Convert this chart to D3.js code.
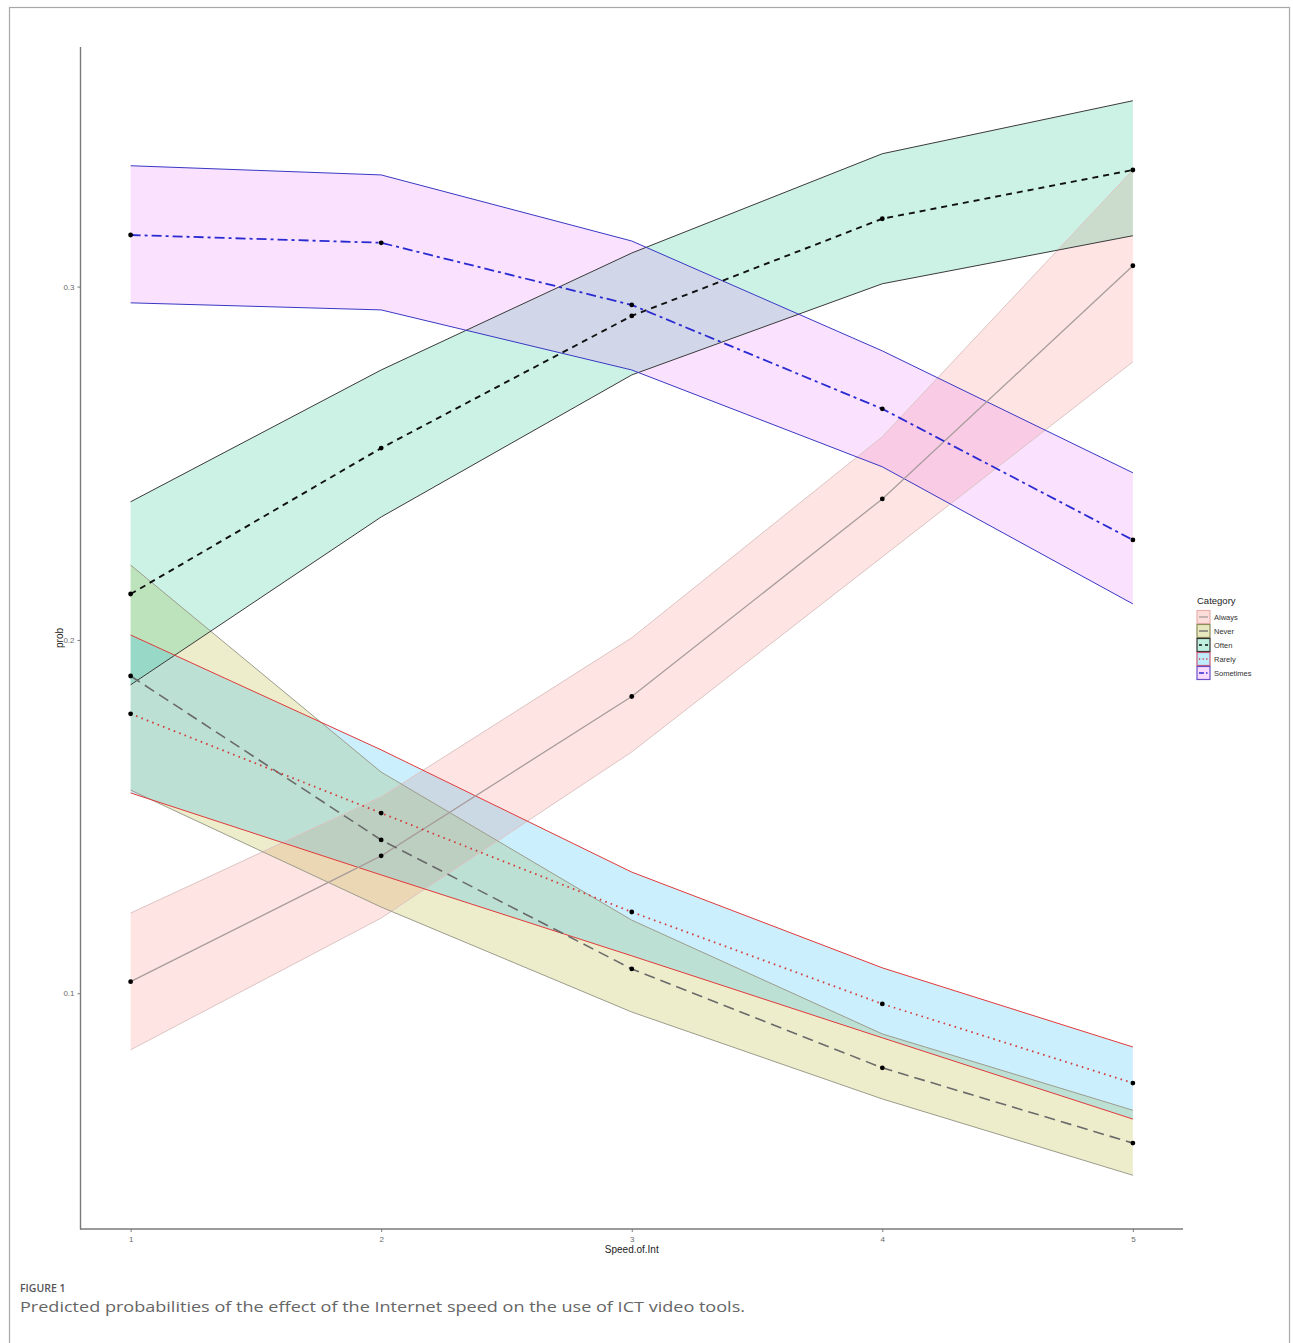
<!DOCTYPE html>
<html>
<head>
<meta charset="utf-8">
<script src="https://cdn.jsdelivr.net/npm/d3@7"></script>
<style>
  body { margin: 0; background: #fff; }
  svg { display: block; }
</style>
</head>
<body>
<svg id="chart" width="1293" height="1343"></svg>
<script>
// Predicted probabilities (with confidence bands) by internet speed level
const speeds = [1, 2, 3, 4, 5];
const categories = ["Always", "Never", "Often", "Rarely", "Sometimes"];

const alwaysProb = [0.1033, 0.1389, 0.1840, 0.2399, 0.3059];
const alwaysLow  = [0.0840, 0.1213, 0.1683, 0.2235, 0.2787];
const alwaysHigh = [0.1227, 0.1556, 0.2006, 0.2575, 0.3330];

const neverProb = [0.1898, 0.1434, 0.1069, 0.0789, 0.0576];
const neverLow  = [0.1575, 0.1244, 0.0947, 0.0701, 0.0485];
const neverHigh = [0.2212, 0.1626, 0.1207, 0.0885, 0.0669];

const oftenProb = [0.2130, 0.2543, 0.2917, 0.3192, 0.3330];
const oftenLow  = [0.1873, 0.2348, 0.2750, 0.3008, 0.3144];
const oftenHigh = [0.2391, 0.2764, 0.3095, 0.3376, 0.3526];

const rarelyProb = [0.1791, 0.1510, 0.1230, 0.0970, 0.0746];
const rarelyLow  = [0.1567, 0.1335, 0.1106, 0.0874, 0.0644];
const rarelyHigh = [0.2014, 0.1689, 0.1343, 0.1072, 0.0848];

const sometimesProb = [0.3146, 0.3124, 0.2948, 0.2654, 0.2283];
const sometimesLow  = [0.2954, 0.2934, 0.2764, 0.2490, 0.2102];
const sometimesHigh = [0.3342, 0.3316, 0.3129, 0.2818, 0.2473];

const yTicks = [0.1, 0.2, 0.3];
const xTicks = [1, 2, 3, 4, 5];

const seriesValues = {
  Always:    [alwaysProb, alwaysLow, alwaysHigh],
  Never:     [neverProb, neverLow, neverHigh],
  Often:     [oftenProb, oftenLow, oftenHigh],
  Rarely:    [rarelyProb, rarelyLow, rarelyHigh],
  Sometimes: [sometimesProb, sometimesLow, sometimesHigh]
};

// Visual encoding per category
const fillColor = d3.scaleOrdinal().domain(categories)
  .range(["#F8766D", "#A3A500", "#00BF7D", "#00B0F6", "#E76BF3"]);
const bandStroke = d3.scaleOrdinal().domain(categories)
  .range(["#dcc4c4", "#9c9c8c", "#3a3a3a", "#e03a3a", "#3838c4"]);
const lineStroke = d3.scaleOrdinal().domain(categories)
  .range(["#a89c9c", "#6a6a6a", "#111111", "#d23c3c", "#2a2ad2"]);
const lineDash = d3.scaleOrdinal().domain(categories)
  .range(["none", "11,6", "6,5", "1.6,4.2", "10,4,3,4"]);
const lineWidth = d3.scaleOrdinal().domain(categories)
  .range([1.3, 1.6, 1.9, 1.8, 1.8]);
const keyBorder = d3.scaleOrdinal().domain(categories)
  .range(["#eab0b0", "#8c8c5a", "#333333", "#c85a78", "#6a50c8"]);

const rows = categories.map(cat => ({
  cat,
  pts: speeds.map((s, i) => ({
    x: s,
    p: seriesValues[cat][0][i],
    lo: seriesValues[cat][1][i],
    hi: seriesValues[cat][2][i]
  }))
}));

const svg = d3.select("#chart");

// Figure frame
svg.append("rect")
  .attr("x", 9.5).attr("y", 7.5)
  .attr("width", 1280).attr("height", 1400)
  .attr("fill", "none").attr("stroke", "#a8a8a8").attr("stroke-width", 1.2);

const plot = { left: 80.5, right: 1183, top: 47, bottom: 1229 };

// Scales with ggplot-style 5% expansion
const xExt = d3.extent(speeds);
const xPad = (xExt[1] - xExt[0]) * 0.05;
const x = d3.scaleLinear().domain([xExt[0] - xPad, xExt[1] + xPad])
  .range([plot.left, plot.right]);

const allVals = categories.flatMap(c => seriesValues[c][1].concat(seriesValues[c][2]));
const yExt = d3.extent(allVals);
const yPad = (yExt[1] - yExt[0]) * 0.05;
const y = d3.scaleLinear().domain([yExt[0] - yPad, yExt[1] + yPad])
  .range([plot.bottom, plot.top]);

// Ribbons
const area = d3.area().x(d => x(d.x)).y0(d => y(d.lo)).y1(d => y(d.hi));
const lineLo = d3.line().x(d => x(d.x)).y(d => y(d.lo));
const lineHi = d3.line().x(d => x(d.x)).y(d => y(d.hi));
const lineP = d3.line().x(d => x(d.x)).y(d => y(d.p));

const bands = svg.append("g");
rows.forEach(r => {
  bands.append("path").datum(r.pts)
    .attr("d", area)
    .attr("fill", fillColor(r.cat)).attr("fill-opacity", 0.2)
    .attr("stroke", "none");
});
rows.forEach(r => {
  [lineLo, lineHi].forEach(gen => {
    bands.append("path").datum(r.pts)
      .attr("d", gen)
      .attr("fill", "none")
      .attr("stroke", bandStroke(r.cat))
      .attr("stroke-width", 1);
  });
});

// Mean lines
const lines = svg.append("g");
rows.forEach(r => {
  lines.append("path").datum(r.pts)
    .attr("d", lineP)
    .attr("fill", "none")
    .attr("stroke", lineStroke(r.cat))
    .attr("stroke-width", lineWidth(r.cat))
    .attr("stroke-dasharray", lineDash(r.cat));
});

// Points
const pts = svg.append("g");
rows.forEach(r => {
  pts.selectAll(null).data(r.pts).enter().append("circle")
    .attr("cx", d => x(d.x)).attr("cy", d => y(d.p))
    .attr("r", 2.4).attr("fill", "#000");
});

// Axes
const axisColor = "#7a7a7a";
const yAxis = svg.append("g")
  .attr("transform", `translate(${plot.left},0)`)
  .call(d3.axisLeft(y).tickValues(yTicks).tickSize(3).tickPadding(3).tickFormat(d3.format(".1f")));
const xAxis = svg.append("g")
  .attr("transform", `translate(0,${plot.bottom})`)
  .call(d3.axisBottom(x).tickValues(xTicks).tickSize(3).tickPadding(4).tickFormat(d3.format("d")));

[yAxis, xAxis].forEach(g => {
  g.select(".domain").remove();
  g.selectAll(".tick line").attr("stroke", axisColor).attr("stroke-width", 1);
  g.selectAll(".tick text")
    .attr("fill", "#6a6a6a")
    .attr("font-family", "Liberation Sans, Arial, sans-serif")
    .attr("font-size", 8);
});
svg.append("line")
  .attr("x1", plot.left).attr("x2", plot.left)
  .attr("y1", plot.top).attr("y2", plot.bottom + 0.5)
  .attr("stroke", axisColor).attr("stroke-width", 1.4);
svg.append("line")
  .attr("x1", plot.left - 0.5).attr("x2", plot.right)
  .attr("y1", plot.bottom).attr("y2", plot.bottom)
  .attr("stroke", axisColor).attr("stroke-width", 1.4);

// Axis titles
svg.append("text")
  .attr("transform", `translate(63,${(plot.top + plot.bottom) / 2}) rotate(-90)`)
  .attr("text-anchor", "middle")
  .attr("font-family", "Liberation Sans, Arial, sans-serif")
  .attr("font-size", 10).attr("fill", "#222")
  .text("prob");
svg.append("text")
  .attr("x", (plot.left + plot.right) / 2).attr("y", 1253)
  .attr("text-anchor", "middle")
  .attr("font-family", "Liberation Sans, Arial, sans-serif")
  .attr("font-size", 10).attr("fill", "#222")
  .text("Speed.of.Int");

// Legend
const legend = svg.append("g").attr("transform", "translate(1196,596)");
legend.append("text")
  .attr("x", 1).attr("y", 8)
  .attr("font-family", "Liberation Sans, Arial, sans-serif")
  .attr("font-size", 9.5).attr("fill", "#222")
  .text("Category");
categories.forEach((c, i) => {
  const g = legend.append("g").attr("transform", `translate(0,${14 + i * 14})`);
  g.append("rect")
    .attr("x", 1).attr("y", 0.5).attr("width", 13).attr("height", 13)
    .attr("fill", fillColor(c)).attr("fill-opacity", 0.25)
    .attr("stroke", keyBorder(c)).attr("stroke-width", 1.2);
  g.append("line")
    .attr("x1", 3).attr("x2", 12).attr("y1", 7).attr("y2", 7)
    .attr("stroke", lineStroke(c))
    .attr("stroke-width", 1.3)
    .attr("stroke-dasharray", c === "Never" ? "none" : c === "Often" ? "3,3" : c === "Rarely" ? "1.2,2.4" : c === "Sometimes" ? "5,2,1.5,2" : "none");
  g.append("text")
    .attr("x", 18).attr("y", 10)
    .attr("font-family", "Liberation Sans, Arial, sans-serif")
    .attr("font-size", 7.5).attr("fill", "#333")
    .text(c);
});

// Caption
svg.append("text")
  .attr("x", 20).attr("y", 1292)
  .attr("font-family", "Open Sans, Lato, sans-serif")
  .attr("font-size", 10.5).attr("font-weight", 600).attr("fill", "#555")
  .text("FIGURE 1");
svg.append("text")
  .attr("x", 20).attr("y", 1312)
  .attr("font-family", "Open Sans, Lato, sans-serif")
  .attr("font-size", 14.5).attr("fill", "#666")
  .attr("textLength", 725).attr("lengthAdjust", "spacingAndGlyphs")
  .text("Predicted probabilities of the effect of the Internet speed on the use of ICT video tools.");
</script>
</body>
</html>
